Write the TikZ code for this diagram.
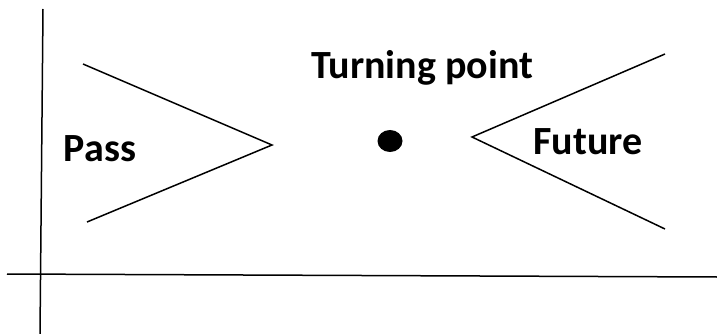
\documentclass[tikz,border=0pt]{standalone}
\usepackage{fontspec}
\setmainfont{Carlito}
\usetikzlibrary{shapes.geometric}
\begin{document}
\begin{tikzpicture}[x=1pt,y=-1pt,
  ln/.style={line width=1.5pt,line join=miter},
  lbl/.style={font=\fontsize{40}{44}\selectfont\bfseries,inner sep=0pt,anchor=base}]
\useasboundingbox (0,0) rectangle (717,334);
\fill[white] (0,0) rectangle (717,334);
\coordinate (vt) at (43,9);
\coordinate (vb) at (40,334);
\coordinate (hl) at (7,274);
\coordinate (hr) at (717,277);
\draw[ln] (vt) -- (vb);
\draw[ln] (hl) -- (hr);
\coordinate (p1) at (83,64);
\coordinate (p2) at (272,145);
\coordinate (p3) at (87,222);
\draw[ln] (p1) -- (p2) -- (p3);
\coordinate (f1) at (665,54);
\coordinate (f2) at (472,137);
\coordinate (f3) at (665,229);
\draw[ln] (f1) -- (f2) -- (f3);
\node[fill=black,ellipse,minimum width=25pt,minimum height=22pt,inner sep=0pt] (dot) at (390,141) {};
\node[lbl] (tp) at (422,79) {Turning point};
\node[lbl] (pass) at (100,161) {Pass};
\node[lbl] (fut) at (588,154) {Future};
\end{tikzpicture}
\end{document}
